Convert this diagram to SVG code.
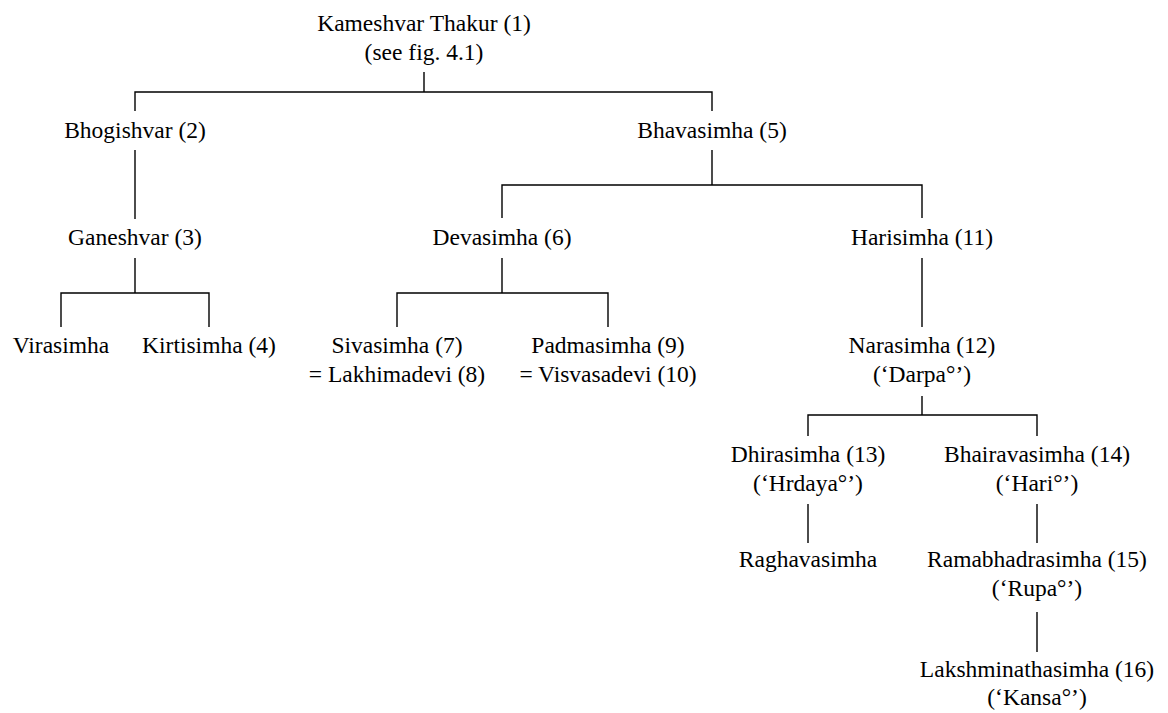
<svg xmlns="http://www.w3.org/2000/svg" width="1168" height="713" viewBox="0 0 1168 713">
<style>
.t text{fill:#000;text-anchor:middle;font-family:"Liberation Serif","Times New Roman",Times,serif;font-size:23.5px}
.c{fill:none;stroke:#000;stroke-width:1.4}
</style>
<rect width="1168" height="713" fill="#fff"/>
<g id="connectors" class="c">
<path d="M424,72V92M135,111V92H712V111"/>
<path d="M135,150V219"/>
<path d="M712,150V185M502,218V185H922V218"/>
<path d="M135,258V293M61,327V293H209V327"/>
<path d="M502,258V293M397,327V293H608V327"/>
<path d="M922,258V327"/>
<path d="M922,396V415M808,436V415H1037V436"/>
<path d="M808,504V543"/>
<path d="M1037,504V543"/>
<path d="M1037,612V652"/>
</g>
<g class="t">
<g id="n1"><text x="424" y="31">Kameshvar Thakur (1)</text><text x="424" y="60">(see fig. 4.1)</text></g>
<g id="n2"><text x="135" y="138">Bhogishvar (2)</text></g>
<g id="n5"><text x="712" y="138">Bhavasimha (5)</text></g>
<g id="n3"><text x="135" y="245">Ganeshvar (3)</text></g>
<g id="n6"><text x="502" y="245">Devasimha (6)</text></g>
<g id="n11"><text x="922" y="245">Harisimha (11)</text></g>
<g id="nvira"><text x="61" y="353">Virasimha</text></g>
<g id="n4"><text x="209" y="353">Kirtisimha (4)</text></g>
<g id="n7"><text x="397" y="353">Sivasimha (7)</text><text x="397" y="382">= Lakhimadevi (8)</text></g>
<g id="n9"><text x="608" y="353">Padmasimha (9)</text><text x="608" y="382">= Visvasadevi (10)</text></g>
<g id="n12"><text x="922" y="353">Narasimha (12)</text><text x="922" y="382">(‘Darpa°’)</text></g>
<g id="n13"><text x="808" y="462">Dhirasimha (13)</text><text x="808" y="491">(‘Hrdaya°’)</text></g>
<g id="n14"><text x="1037" y="462">Bhairavasimha (14)</text><text x="1037" y="491">(‘Hari°’)</text></g>
<g id="nragh"><text x="808" y="567">Raghavasimha</text></g>
<g id="n15"><text x="1037" y="567">Ramabhadrasimha (15)</text><text x="1037" y="596">(‘Rupa°’)</text></g>
<g id="n16"><text x="1037" y="677">Lakshminathasimha (16)</text><text x="1037" y="705">(‘Kansa°’)</text></g>
</g>
</svg>
